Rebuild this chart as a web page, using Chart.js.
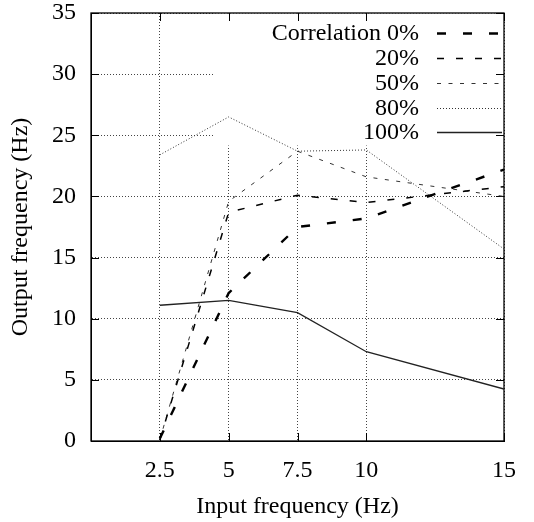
<!DOCTYPE html>
<html>
<head>
<meta charset="utf-8">
<script src="https://cdn.jsdelivr.net/npm/chart.js@4.4.1/dist/chart.umd.min.js"></script>
<style>
html,body{margin:0;padding:0;background:#fff;}
#wrap{width:534px;height:522px;position:relative;}
</style>
</head>
<body>
<div id="wrap"><canvas id="c"></canvas></div>
<script>
const inputFreq = [2.5, 5, 7.5, 10, 15];
const xTicks = [2.5, 5, 7.5, 10, 15];
const seriesLabels = ["Correlation 0%", "20%", "50%", "80%", "100%"];
const corr0   = [0.2, 12.1, 17.5, 18.2, 22.2];
const corr20  = [0.1, 18.7, 20.1, 19.5, 20.8];
const corr50  = [0.1, 19.6, 23.7, 21.6, 20.0];
const corr80  = [23.4, 26.5, 23.7, 23.8, 15.7];
const corr100 = [11.1, 11.5, 10.5, 7.3, 4.25];

const FONT = "'Liberation Serif', 'Times New Roman', serif";
const styles = [
  {color:'#000', width:2.4, dash:[9,17]},
  {color:'#000', width:1.5, dash:[7,12]},
  {color:'#333', width:1.0, dash:[4,7.5]},
  {color:'#333', width:1.0, dash:[1,2]},
  {color:'#222', width:1.3, dash:[]}
];
const allSeries = [corr0, corr20, corr50, corr80, corr100];
const datasets = allSeries.map((s, i) => ({
  label: seriesLabels[i],
  data: s.map((v, j) => ({x: inputFreq[j], y: v})),
  borderColor: styles[i].color,
  borderWidth: styles[i].width,
  borderDash: styles[i].dash,
  pointRadius: 0,
  fill: false,
  tension: 0
}));

const legendBox = {
  id: 'legendBox',
  beforeDatasetsDraw(chart) {
    const ctx = chart.ctx, a = chart.chartArea;
    const xs = chart.scales.x, ys = chart.scales.y;
    // blank key area (hides the grid behind the key)
    ctx.save();
    ctx.fillStyle = '#fff';
    ctx.fillRect(213, a.top + 0.5, a.right - 213 - 0.5, 145 - a.top);
    // inside tick marks and frame
    ctx.strokeStyle = '#000';
    ctx.lineWidth = 1;
    ctx.beginPath();
    xs.ticks.forEach(t => {
      const px = Math.round(xs.getPixelForValue(t.value)) + 0.5;
      ctx.moveTo(px, a.bottom); ctx.lineTo(px, a.bottom - 8);
      ctx.moveTo(px, a.top); ctx.lineTo(px, a.top + 8);
    });
    ys.ticks.forEach(t => {
      const py = Math.round(ys.getPixelForValue(t.value)) + 0.5;
      ctx.moveTo(a.left, py); ctx.lineTo(a.left + 8, py);
      ctx.moveTo(a.right, py); ctx.lineTo(a.right - 8, py);
    });
    ctx.stroke();
    ctx.lineWidth = 1.3;
    ctx.strokeRect(a.left, a.top, a.right - a.left, a.bottom - a.top);
    ctx.restore();
  },
  afterDatasetsDraw(chart) {
    const ctx = chart.ctx;
    ctx.save();
    ctx.font = '24px ' + FONT;
    ctx.fillStyle = '#000';
    ctx.textAlign = 'right';
    ctx.textBaseline = 'middle';
    const rows = [33, 58, 83, 108, 132];
    chart.data.datasets.forEach((ds, i) => {
      const y = rows[i];
      ctx.fillText(ds.label, 419, y + 1);
      ctx.beginPath();
      ctx.strokeStyle = ds.borderColor;
      ctx.lineWidth = ds.borderWidth;
      ctx.setLineDash(ds.borderDash);
      ctx.moveTo(437, y + 0.5);
      ctx.lineTo(502, y + 0.5);
      ctx.stroke();
    });
    ctx.restore();
  }
};

new Chart(document.getElementById('c'), {
  type: 'line',
  data: { datasets },
  options: {
    responsive: true,
    maintainAspectRatio: false,
    animation: false,
    layout: { padding: { top: 13, right: 30, left: 0, bottom: 0 } },
    plugins: { legend: { display: false }, tooltip: { enabled: false } },
    scales: {
      x: {
        type: 'linear', min: 0, max: 15,
        afterBuildTicks: (ax) => { ax.ticks = xTicks.map(v => ({value: v})); },
        afterFit: (ax) => { ax.height = 81; ax.paddingLeft = 0; ax.paddingRight = 0; },
        grid: { color: '#444', lineWidth: 1, drawTicks: false },
        border: { display: true, color: '#000', width: 1, dash: [1, 2] },
        ticks: { color: '#000', padding: 18, maxRotation: 0, font: { family: FONT, size: 24, lineHeight: 1 },
                 callback: (v) => String(v) },
        title: { display: true, text: 'Input frequency (Hz)', color: '#000', padding: { top: 1, bottom: 1 },
                 font: { family: FONT, size: 24, lineHeight: 1.2 } }
      },
      y: {
        type: 'linear', min: 0, max: 35,
        ticks: { stepSize: 5, color: '#000', padding: 15, font: { family: FONT, size: 24, lineHeight: 1 } },
        afterFit: (ax) => { ax.width = 91; ax.paddingTop = 0; ax.paddingBottom = 0; },
        grid: { color: '#444', lineWidth: 1, drawTicks: false },
        border: { display: true, color: '#000', width: 1, dash: [1, 2] },
        title: { display: true, text: 'Output frequency (Hz)', color: '#000', padding: { top: 6, bottom: 0 },
                 font: { family: FONT, size: 24, lineHeight: 1.2 } }
      }
    }
  },
  plugins: [legendBox]
});
</script>
</body>
</html>
